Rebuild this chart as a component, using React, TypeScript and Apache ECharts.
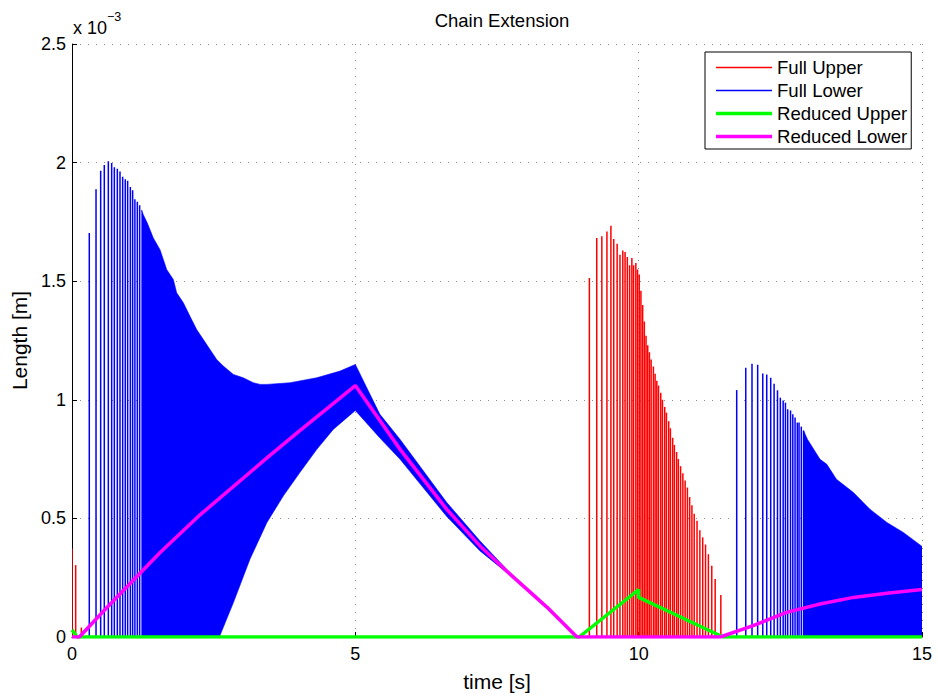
import React, { useEffect, useRef } from 'react';
import * as echarts from 'echarts';

// Axis ticks (length in units of 1e-3 m)
const xTicks = [0, 5, 10, 15];
const yTicks = [0, 0.5, 1, 1.5, 2, 2.5];

// Full Upper (red) — individual oscillation spikes [time, height]
const fullUpperSpikeT = [0, 0.065, 0.165, 9.13, 9.26, 9.35, 9.44, 9.51, 9.56, 9.62, 9.67, 9.72, 9.76, 9.8, 9.84, 9.88, 9.91, 9.95, 9.98, 10.01, 10.04, 10.07, 10.1, 10.13, 10.16, 10.19, 10.22, 10.26, 10.29, 10.32, 10.35, 10.39, 10.42, 10.46, 10.49, 10.53, 10.56, 10.6, 10.63, 10.67, 10.7, 10.74, 10.78, 10.82, 10.86, 10.9, 10.94, 10.98, 11.03, 11.08, 11.13, 11.18, 11.23, 11.29, 11.35, 11.45];
const fullUpperSpikeH = [0.373, 0.303, 0.04, 1.514, 1.682, 1.689, 1.71, 1.734, 1.678, 1.658, 1.612, 1.629, 1.623, 1.602, 1.567, 1.598, 1.567, 1.577, 1.549, 1.528, 1.46, 1.4, 1.33, 1.27, 1.23, 1.2, 1.17, 1.14, 1.11, 1.08, 1.06, 1.03, 1.0, 0.97, 0.946, 0.91, 0.88, 0.84, 0.81, 0.78, 0.75, 0.72, 0.69, 0.66, 0.63, 0.59, 0.555, 0.52, 0.49, 0.45, 0.42, 0.39, 0.349, 0.3, 0.244, 0.177];

// Full Lower (blue) — sparse spikes [time, height]
const fullLowerSpikeT = [0.305, 0.424, 0.506, 0.57, 0.641, 0.7, 0.747, 0.8, 0.847, 0.894, 0.94, 0.982, 1.03, 1.07, 1.11, 1.153, 1.194, 11.73, 11.89, 12.0, 12.1, 12.19, 12.26, 12.33, 12.39, 12.45, 12.5, 12.55, 12.59, 12.63, 12.68, 12.72, 12.76, 12.8, 12.83, 12.87, 12.91];
const fullLowerSpikeH = [1.703, 1.888, 1.966, 1.99, 2.006, 1.998, 1.98, 1.974, 1.963, 1.94, 1.93, 1.923, 1.897, 1.883, 1.846, 1.835, 1.82, 1.041, 1.135, 1.152, 1.148, 1.111, 1.107, 1.093, 1.068, 1.04, 1.009, 0.997, 0.988, 0.96, 0.955, 0.939, 0.925, 0.904, 0.904, 0.887, 0.87];

// Full Lower (blue) — dense oscillation band 1: envelopes
const band1UpperT = [1.23, 1.259, 1.329, 1.435, 1.553, 1.671, 1.788, 1.847, 1.965, 2.082, 2.2, 2.318, 2.435, 2.553, 2.67, 2.847, 3.02, 3.2, 3.32, 3.44, 3.85, 4.32, 4.73, 5.0, 5.43, 5.79, 6.61, 7.2, 7.73, 8.38, 8.91];
const band1UpperV = [1.8, 1.78, 1.745, 1.682, 1.633, 1.549, 1.507, 1.451, 1.409, 1.352, 1.296, 1.254, 1.212, 1.17, 1.142, 1.107, 1.093, 1.072, 1.065, 1.065, 1.072, 1.093, 1.121, 1.149, 0.94, 0.833, 0.568, 0.405, 0.27, 0.13, 0];
const band1LowerT = [1.23, 2.6, 2.85, 3.14, 3.44, 3.73, 4.02, 4.32, 4.61, 5.0, 5.43, 5.79, 6.61, 7.2, 7.73, 8.38, 8.91];
const band1LowerV = [0, 0, 0.146, 0.328, 0.483, 0.595, 0.693, 0.791, 0.875, 0.955, 0.84, 0.749, 0.509, 0.363, 0.26, 0.12, 0];

// Full Lower (blue) — dense oscillation band 2: envelopes
const band2UpperT = [12.91, 12.98, 13.2, 13.32, 13.49, 13.79, 14.08, 14.38, 14.67, 15];
const band2UpperV = [0.87, 0.833, 0.749, 0.728, 0.665, 0.609, 0.539, 0.483, 0.441, 0.382];
const band2LowerT = [12.91, 15];
const band2LowerV = [0, 0];

// Reduced Upper (green)
const reducedUpperT = [0, 0.09, 8.95, 10.0, 10.0, 11.49, 15];
const reducedUpperV = [0.03, 0, 0, 0.2, 0.167, 0, 0];

// Reduced Lower (magenta)
const reducedLowerT = [0, 0.13, 0.6, 1.55, 2.26, 3.44, 4.02, 5.0, 5.79, 6.61, 7.2, 7.73, 8.38, 8.91, 11.44, 12.02, 12.61, 13.2, 13.79, 14.38, 15];
const reducedLowerV = [0, 0, 0.12, 0.355, 0.515, 0.755, 0.87, 1.06, 0.791, 0.539, 0.384, 0.265, 0.126, 0, 0, 0.048, 0.104, 0.139, 0.167, 0.184, 0.2];

const RED = '#ff0000';
const BLUE = '#0000ff';
const GREEN = '#00ff00';
const MAGENTA = '#ff00ff';
const FONT = 'Liberation Sans, Arial, Helvetica, sans-serif';

const zip = (a: number[], b: number[]) => a.map((v, i) => [v, b[i]]);

function spikeSeries(name: string, color: string, t: number[], h: number[], width: number) {
  return {
    name,
    type: 'custom',
    clip: true,
    itemStyle: { color },
    data: zip(t, h),
    renderItem: (params: any, api: any) => {
      const x = api.value(0);
      const y = api.value(1);
      const p0 = api.coord([x, 0]);
      const p1 = api.coord([x, y]);
      return {
        type: 'line',
        shape: { x1: p0[0], y1: p0[1], x2: p1[0], y2: p1[1] },
        style: { stroke: color, lineWidth: width },
      };
    },
  };
}

function bandSeries(name: string, color: string, ut: number[], uv: number[], lt: number[], lv: number[]) {
  const upper = zip(ut, uv);
  const lower = zip(lt, lv).reverse();
  const pts = upper.concat(lower);
  return {
    name,
    type: 'custom',
    clip: true,
    itemStyle: { color },
    data: [pts[0]],
    renderItem: (params: any, api: any) => {
      const points = pts.map((p) => api.coord(p));
      return {
        type: 'polygon',
        shape: { points },
        style: { fill: color, stroke: color, lineWidth: 0.6 },
      };
    },
  };
}

export default function App() {
  const ref = useRef<HTMLDivElement>(null);
  useEffect(() => {
    document.body.style.margin = '0';
    if (!ref.current) return;
    const chart = echarts.init(ref.current, undefined, { renderer: 'svg' });
    const thin = 'path://M0,0H56V1.4H0Z';
    const thick = 'path://M0,0H56V3.5H0Z';
    chart.setOption({
      animation: false,
      backgroundColor: '#ffffff',
      textStyle: { fontFamily: FONT, color: '#000' },
      title: {
        text: 'Chain Extension',
        left: 497,
        top: 6,
        textAlign: 'center',
        textStyle: { fontFamily: FONT, fontSize: 18.5, fontWeight: 'normal', color: '#000' },
      },
      grid: { left: 72, right: 16, top: 44, bottom: 59, containLabel: false },
      legend: {
        orient: 'vertical',
        left: 705,
        top: 52,
        padding: [6, 4, 3, 11],
        itemGap: 4,
        itemWidth: 56,
        itemHeight: 4,
        selectedMode: false,
        backgroundColor: '#ffffff',
        borderColor: '#000',
        borderWidth: 1,
        textStyle: { fontFamily: FONT, fontSize: 18.6, color: '#000' },
        data: [
          { name: 'Full Upper', icon: thin, itemStyle: { color: RED } },
          { name: 'Full Lower', icon: thin, itemStyle: { color: BLUE } },
          { name: 'Reduced Upper', icon: thick, itemStyle: { color: GREEN } },
          { name: 'Reduced Lower', icon: thick, itemStyle: { color: MAGENTA } },
        ],
      },
      graphic: [
        { type: 'text', x: 73, y: 28, style: { text: 'x 10', font: `18px ${FONT}`, fill: '#000', textVerticalAlign: 'middle' } },
        { type: 'text', x: 107, y: 17, style: { text: '\u22123', font: `12.5px ${FONT}`, fill: '#000', textVerticalAlign: 'middle' } },
      ],
      xAxis: {
        type: 'value',
        min: xTicks[0],
        max: xTicks[xTicks.length - 1],
        interval: xTicks[1] - xTicks[0],
        name: 'time [s]',
        nameLocation: 'middle',
        nameGap: 34,
        nameTextStyle: { fontFamily: FONT, fontSize: 21, color: '#000' },
        axisLine: { lineStyle: { color: '#000', width: 1 } },
        axisTick: { inside: true, length: 5, lineStyle: { color: '#000' } },
        axisLabel: { fontFamily: FONT, fontSize: 18, color: '#000', margin: 8 },
        splitLine: { show: true, lineStyle: { color: '#8c8c8c', type: [1, 7], width: 1 } },
      },
      yAxis: {
        type: 'value',
        min: yTicks[0],
        max: yTicks[yTicks.length - 1],
        interval: yTicks[1] - yTicks[0],
        name: 'Length [m]',
        nameLocation: 'middle',
        nameGap: 40,
        nameTextStyle: { fontFamily: FONT, fontSize: 21, color: '#000' },
        axisLine: { show: true, lineStyle: { color: '#000', width: 1 } },
        axisTick: { show: true, inside: true, length: 5, lineStyle: { color: '#000' } },
        axisLabel: { fontFamily: FONT, fontSize: 18, color: '#000', margin: 6 },
        splitLine: { show: true, lineStyle: { color: '#8c8c8c', type: [1, 7], width: 1 } },
      },
      series: [
        spikeSeries('Full Upper', RED, fullUpperSpikeT, fullUpperSpikeH, 1.5),
        spikeSeries('Full Lower', BLUE, fullLowerSpikeT, fullLowerSpikeH, 1.5),
        bandSeries('Full Lower', BLUE, band1UpperT, band1UpperV, band1LowerT, band1LowerV),
        bandSeries('Full Lower', BLUE, band2UpperT, band2UpperV, band2LowerT, band2LowerV),
        {
          name: 'Reduced Upper',
          type: 'line',
          data: zip(reducedUpperT, reducedUpperV),
          showSymbol: false,
          symbol: 'none',
          itemStyle: { color: GREEN },
          lineStyle: { color: GREEN, width: 3.5 },
        },
        {
          name: 'Reduced Lower',
          type: 'line',
          data: zip(reducedLowerT, reducedLowerV),
          showSymbol: false,
          symbol: 'none',
          itemStyle: { color: MAGENTA },
          lineStyle: { color: MAGENTA, width: 3.5 },
        },
      ],
    });
    return () => chart.dispose();
  }, []);
  return <div ref={ref} style={{ width: 938, height: 697 }} />;
}
